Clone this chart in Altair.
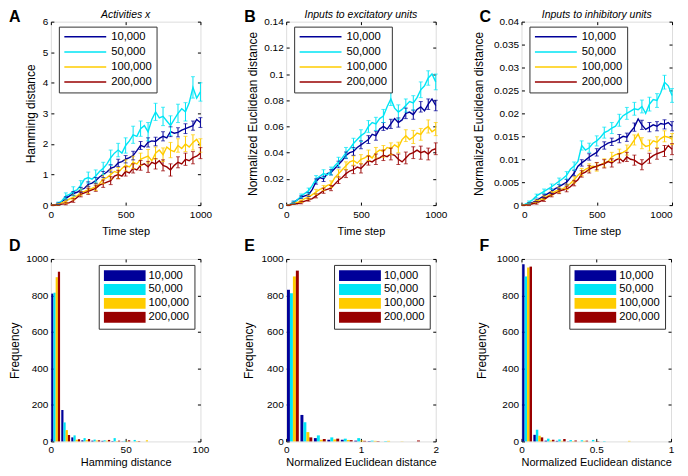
import altair as alt
import pandas as pd

FONT = "Liberation Sans"
SERIES = ["10,000", "50,000", "100,000", "200,000"]
COLORS = ["#000099", "#00E5F5", "#FFCC00", "#990000"]

# time steps of the line panels and positions of the error bars
T = list(range(0, 1001, 25))
ERR_T = list(range(50, 1001, 50))

# ---- Panel A: Activities x (Hamming distance)
A_10K = [0, 0.01, 0.05, 0.12, 0.22, 0.3, 0.38, 0.42, 0.5, 0.55, 0.68, 0.72, 0.8, 0.92, 1.0, 1.08, 1.2, 1.25, 1.38, 1.42,
         1.5, 1.55, 1.62, 1.78, 1.95, 1.9, 2.05, 2.1, 2.08, 2.18, 2.25, 2.2, 2.4, 2.35, 2.38, 2.45, 2.5, 2.55, 2.6, 2.8, 2.7]
A_50K = [0, 0.0, 0.05, 0.15, 0.3, 0.35, 0.45, 0.5, 0.65, 0.85, 0.9, 0.85, 0.95, 1.1, 1.2, 1.35, 1.55, 1.7, 1.8, 1.7,
         1.95, 2.1, 2.3, 2.25, 2.5, 2.6, 2.4, 2.8, 3.05, 2.85, 2.9, 2.75, 2.6, 2.8, 3.0, 3.15, 3.05, 3.35, 3.85, 3.5, 3.7]
A_100K = [0, 0, 0.02, 0.08, 0.12, 0.2, 0.25, 0.3, 0.42, 0.45, 0.5, 0.55, 0.6, 0.7, 0.85, 0.9, 1.0, 1.1, 1.05, 1.2,
          1.3, 1.25, 1.4, 1.35, 1.5, 1.55, 1.6, 1.45, 1.7, 1.8, 1.65, 1.9, 1.8, 1.75, 1.95, 1.85, 2.0, 1.9, 2.05, 2.15, 1.95]
A_200K = [0, 0, 0.01, 0.03, 0.05, 0.08, 0.15, 0.25, 0.35, 0.4, 0.45, 0.5, 0.55, 0.65, 0.7, 0.75, 0.8, 0.95, 1.0, 0.95,
          1.1, 1.05, 1.2, 1.15, 1.3, 1.35, 1.25, 1.4, 1.35, 1.45, 1.3, 1.25, 1.15, 1.3, 1.4, 1.35, 1.5, 1.45, 1.55, 1.6, 1.7]
A_ERR_10K = [0.03, 0.05, 0.06, 0.08, 0.08, 0.1, 0.1, 0.12, 0.12, 0.12, 0.14, 0.13, 0.15, 0.14, 0.15, 0.16, 0.15, 0.16, 0.15, 0.16]
A_ERR_50K = [0.05, 0.1, 0.15, 0.15, 0.18, 0.2, 0.2, 0.25, 0.22, 0.25, 0.28, 0.25, 0.3, 0.28, 0.3, 0.32, 0.3, 0.3, 0.35, 0.3]
A_ERR_100K = [0.03, 0.06, 0.08, 0.1, 0.12, 0.12, 0.15, 0.15, 0.18, 0.18, 0.2, 0.2, 0.22, 0.2, 0.22, 0.25, 0.22, 0.25, 0.25, 0.22]
A_ERR_200K = [0.02, 0.04, 0.06, 0.08, 0.1, 0.1, 0.12, 0.13, 0.14, 0.15, 0.15, 0.16, 0.18, 0.17, 0.18, 0.2, 0.18, 0.2, 0.2, 0.18]

# ---- Panel B: Inputs to excitatory units
B_10K = [0, 0.0005, 0.002, 0.004, 0.006, 0.007, 0.008, 0.012, 0.018, 0.021, 0.02, 0.024, 0.025, 0.028, 0.031, 0.034, 0.038,
         0.04, 0.041, 0.044, 0.046, 0.048, 0.05, 0.054, 0.053, 0.058, 0.06, 0.058, 0.062, 0.066, 0.063, 0.065, 0.07, 0.071,
         0.069, 0.073, 0.075, 0.072, 0.077, 0.081, 0.076]
B_50K = [0, 0.0005, 0.002, 0.004, 0.007, 0.009, 0.011, 0.015, 0.02, 0.022, 0.024, 0.023, 0.026, 0.03, 0.033, 0.036, 0.04,
         0.043, 0.047, 0.05, 0.053, 0.055, 0.06, 0.063, 0.062, 0.066, 0.068, 0.075, 0.081, 0.074, 0.071, 0.073, 0.076, 0.079,
         0.078, 0.082, 0.088, 0.091, 0.097, 0.1, 0.094]
B_100K = [0, 0.0002, 0.001, 0.002, 0.003, 0.005, 0.006, 0.008, 0.01, 0.012, 0.013, 0.015, 0.016, 0.021, 0.024, 0.027, 0.03,
          0.033, 0.034, 0.032, 0.035, 0.036, 0.038, 0.036, 0.04, 0.042, 0.041, 0.044, 0.043, 0.046, 0.044, 0.05, 0.053, 0.05,
          0.052, 0.055, 0.054, 0.058, 0.06, 0.056, 0.058]
B_200K = [0, 0, 0.001, 0.001, 0.002, 0.003, 0.004, 0.005, 0.007, 0.009, 0.011, 0.012, 0.013, 0.016, 0.019, 0.021, 0.024,
          0.026, 0.027, 0.029, 0.028, 0.031, 0.034, 0.033, 0.035, 0.036, 0.038, 0.037, 0.039, 0.038, 0.035, 0.033, 0.036,
          0.039, 0.04, 0.042, 0.04, 0.041, 0.039, 0.042, 0.043]
B_ERR_10K = [0.001, 0.001, 0.0015, 0.002, 0.002, 0.002, 0.0025, 0.0025, 0.003, 0.003, 0.003, 0.0035, 0.003, 0.0035, 0.0035,
             0.004, 0.0035, 0.004, 0.004, 0.004]
B_ERR_50K = [0.001, 0.0015, 0.002, 0.0025, 0.003, 0.003, 0.0035, 0.004, 0.004, 0.0045, 0.0045, 0.005, 0.005, 0.005, 0.0055,
             0.005, 0.0055, 0.006, 0.0055, 0.006]
B_ERR_100K = [0.0005, 0.001, 0.0015, 0.002, 0.002, 0.0025, 0.003, 0.003, 0.0035, 0.0035, 0.004, 0.004, 0.0045, 0.0045, 0.004,
              0.0045, 0.005, 0.0045, 0.005, 0.005]
B_ERR_200K = [0.0005, 0.001, 0.001, 0.0015, 0.002, 0.002, 0.0025, 0.003, 0.003, 0.0035, 0.0035, 0.004, 0.004, 0.0045, 0.004,
              0.0045, 0.0045, 0.005, 0.0045, 0.0045]

# ---- Panel C: Inputs to inhibitory units
C_10K = [0, 0.0001, 0.0003, 0.0006, 0.001, 0.0015, 0.002, 0.0025, 0.003, 0.0036, 0.004, 0.0045, 0.005, 0.006, 0.007, 0.0085,
         0.0092, 0.0098, 0.0105, 0.011, 0.0115, 0.0125, 0.013, 0.0135, 0.0138, 0.014, 0.0145, 0.015, 0.0148, 0.016, 0.017,
         0.0188, 0.0175, 0.0165, 0.017, 0.0175, 0.0172, 0.0178, 0.0176, 0.018, 0.0172]
C_50K = [0, 0.0002, 0.0006, 0.0012, 0.002, 0.0025, 0.003, 0.0035, 0.004, 0.0046, 0.0052, 0.0058, 0.0065, 0.0078, 0.0085,
         0.0095, 0.013, 0.012, 0.0125, 0.0135, 0.014, 0.0148, 0.0158, 0.0162, 0.0168, 0.0172, 0.0185, 0.0195, 0.02, 0.0205,
         0.021, 0.0208, 0.0215, 0.02, 0.022, 0.023, 0.0228, 0.0245, 0.0268, 0.026, 0.0239]
C_100K = [0, 0, 0.0002, 0.0004, 0.0008, 0.0012, 0.0016, 0.002, 0.0025, 0.003, 0.0033, 0.0036, 0.004, 0.0047, 0.0055, 0.0065,
          0.0072, 0.0078, 0.0082, 0.0085, 0.0083, 0.0088, 0.0092, 0.0095, 0.0105, 0.011, 0.0112, 0.0115, 0.012, 0.013,
          0.0142, 0.0155, 0.0135, 0.0128, 0.013, 0.014, 0.0137, 0.0145, 0.015, 0.0148, 0.0144]
C_200K = [0, 0, 0.0001, 0.0003, 0.0005, 0.0008, 0.0012, 0.0018, 0.0022, 0.0026, 0.003, 0.0033, 0.0035, 0.004, 0.0048,
          0.0055, 0.0068, 0.0072, 0.0078, 0.0082, 0.0085, 0.0088, 0.009, 0.0095, 0.0092, 0.0098, 0.0102, 0.0095, 0.0105,
          0.01, 0.0098, 0.0092, 0.0088, 0.0095, 0.0102, 0.0108, 0.0112, 0.0115, 0.0118, 0.013, 0.0122]
C_ERR_10K = [0.0002, 0.0003, 0.0004, 0.0005, 0.0005, 0.0006, 0.0006, 0.0007, 0.0007, 0.0008, 0.0008, 0.0008, 0.0009, 0.0009,
             0.0009, 0.001, 0.001, 0.001, 0.001, 0.001]
C_ERR_50K = [0.0003, 0.0004, 0.0005, 0.0006, 0.0007, 0.0008, 0.0009, 0.001, 0.001, 0.0011, 0.0012, 0.0012, 0.0013, 0.0013,
             0.0014, 0.0014, 0.0015, 0.0015, 0.0015, 0.0015]
C_ERR_100K = [0.0002, 0.0003, 0.0004, 0.0005, 0.0006, 0.0006, 0.0007, 0.0008, 0.0008, 0.0009, 0.0009, 0.001, 0.001, 0.0011,
              0.0011, 0.0012, 0.0012, 0.0012, 0.0012, 0.0012]
C_ERR_200K = [0.0002, 0.0003, 0.0004, 0.0004, 0.0005, 0.0006, 0.0006, 0.0007, 0.0008, 0.0008, 0.0009, 0.0009, 0.001, 0.001,
              0.0011, 0.0011, 0.0011, 0.0012, 0.0012, 0.0012]

# ---- Histograms D, E, F: bin centres and counts
D_CENTERS = [3.2, 9.9, 16.6, 23.3, 30.0, 36.7, 43.4, 50.1, 56.8, 63.5]
D_10K = [810, 172, 22, 6, 4, 3, 2, 1, 0, 0]
D_50K = [815, 104, 33, 18, 10, 6, 18, 3, 8, 0]
D_100K = [900, 62, 9, 7, 5, 4, 2, 3, 2, 6]
D_200K = [930, 35, 12, 13, 6, 8, 4, 6, 2, 0]

E_CENTERS = [0.09, 0.27, 0.45, 0.63, 0.81, 0.99, 1.17, 1.35, 1.53, 1.71]
E_10K = [831, 145, 18, 9, 9, 4, 2, 0, 0, 0]
E_50K = [812, 105, 33, 22, 15, 18, 4, 2, 0, 0]
E_100K = [904, 51, 9, 11, 8, 5, 3, 3, 1, 0]
E_200K = [936, 22, 13, 15, 7, 3, 2, 0, 0, 5]

F_CENTERS = [0.0375, 0.1125, 0.1875, 0.2625, 0.3375, 0.4125, 0.4875, 0.5625, 0.6375, 0.7125]
F_10K = [971, 36, 4, 3, 1, 0, 0, 0, 0, 0]
F_50K = [904, 64, 15, 11, 7, 6, 8, 2, 0, 0]
F_100K = [953, 31, 5, 3, 2, 3, 1, 0, 0, 3]
F_200K = [958, 22, 9, 13, 5, 4, 2, 0, 0, 0]

TOP_X_TICKS = [0, 500, 1000]
A_Y_TICKS = [0, 1, 2, 3, 4, 5, 6]
B_Y_TICKS = [0, 0.02, 0.04, 0.06, 0.08, 0.1, 0.12, 0.14]
C_Y_TICKS = [0, 0.005, 0.01, 0.015, 0.02, 0.025, 0.03, 0.035, 0.04]
HIST_Y_TICKS = [0, 200, 400, 600, 800, 1000]

TICK_STYLE = dict(offset=-3, tickSize=3, tickColor="black", tickWidth=1, domain=False, grid=False,
                  labelFont=FONT, labelFontSize=10, labelColor="black", format=".6~g", labelFlush=False,
                  titleFont=FONT, titleFontWeight="normal", titleColor="black")


def axis(orient, values, title=None, labels=True, **kw):
    props = dict(TICK_STYLE)
    props.update(kw)
    props["title"] = title
    return alt.Axis(orient=orient, values=values, labels=labels, **props)


def text_layer(txt, x, y, size, weight="normal", style="normal", align="left"):
    return alt.Chart(pd.DataFrame({"k": [txt]})).mark_text(
        font=FONT, fontSize=size, fontWeight=weight, fontStyle=style, align=align,
        baseline="alphabetic", color="black"
    ).encode(text="k:N", x=alt.value(x), y=alt.value(y))


def line_panel(series_vals, series_errs, ydom, yticks, ytitle, title, letter, ytitle_pad, width, xflush=False):
    rows, erows = [], []
    for s, vals, errs in zip(SERIES, series_vals, series_errs):
        for t, v in zip(T, vals):
            rows.append({"t": t, "s": s, "v": v})
        lookup = dict(zip(T, vals))
        for t, e in zip(ERR_T, errs):
            erows.append({"t": t, "s": s, "lo": lookup[t] - e, "hi": lookup[t] + e})
    df = pd.DataFrame(rows)
    edf = pd.DataFrame(erows)
    xs = alt.Scale(domain=[0, 1000], nice=False, zero=False)
    ys = alt.Scale(domain=ydom, nice=False, zero=False)
    cs = alt.Scale(domain=SERIES, range=COLORS)
    legend = alt.Legend(title=None, orient="none", legendX=8, legendY=5, symbolType="stroke",
                        symbolSize=1764, symbolStrokeWidth=1.5, labelFont=FONT, labelFontSize=11.25,
                        labelColor="black", labelOffset=4, clipHeight=11.5, rowPadding=2.1, padding=4.5,
                        strokeColor="#333333", fillColor="white")
    line = alt.Chart(df).mark_line(strokeWidth=1.4).encode(
        x=alt.X("t:Q", scale=xs, axis=axis("bottom", TOP_X_TICKS, "Time step", labelPadding=4, titlePadding=6,
                                           titleFontSize=11, labelFlush=xflush)),
        y=alt.Y("v:Q", scale=ys, axis=axis("left", yticks, ytitle, labelPadding=3, titlePadding=ytitle_pad,
                                           titleFontSize=12)),
        color=alt.Color("s:N", scale=cs, sort=SERIES, legend=legend),
    )
    rules = alt.Chart(edf).mark_rule(strokeWidth=1).encode(
        x=alt.X("t:Q", scale=xs, axis=axis("top", TOP_X_TICKS, labels=False)),
        y=alt.Y("lo:Q", scale=ys, axis=axis("right", yticks, labels=False)),
        y2="hi:Q",
        color=alt.Color("s:N", scale=cs, sort=SERIES, legend=None),
    )
    cap_hi = alt.Chart(edf).mark_tick(orient="horizontal", size=4, thickness=1).encode(
        x=alt.X("t:Q", scale=xs, axis=None), y=alt.Y("hi:Q", scale=ys, axis=None),
        color=alt.Color("s:N", scale=cs, sort=SERIES, legend=None),
    )
    cap_lo = alt.Chart(edf).mark_tick(orient="horizontal", size=4, thickness=1).encode(
        x=alt.X("t:Q", scale=xs, axis=None), y=alt.Y("lo:Q", scale=ys, axis=None),
        color=alt.Color("s:N", scale=cs, sort=SERIES, legend=None),
    )
    return alt.layer(
        line, rules, cap_hi, cap_lo,
        text_layer(letter, -42, 0.5, 16, weight="bold"),
        text_layer(title, width / 2, -4, 10.5, style="italic", align="center"),
    ).properties(width=width, height=184)


def hist_panel(centers, counts, xdom, xticks, xtitle, letter, ytitle_pad, width):
    spacing = centers[1] - centers[0]
    bw = spacing * 0.22
    rows = []
    for i, (s, cnt) in enumerate(zip(SERIES, counts)):
        for c, n in zip(centers, cnt):
            x0 = c + (i - 2) * bw
            rows.append({"x0": x0, "x1": x0 + bw, "n": n, "s": s})
    df = pd.DataFrame(rows)
    xs = alt.Scale(domain=xdom, nice=False, zero=False)
    ys = alt.Scale(domain=[0, 1000], nice=False)
    cs = alt.Scale(domain=SERIES, range=COLORS)
    legend = alt.Legend(title=None, orient="top-right", offset=6, symbolType="M-1,-0.26H1V0.26H-1Z",
                        symbolSize=1764, symbolStrokeWidth=0, labelFont=FONT, labelFontSize=11.25,
                        labelColor="black", labelOffset=3, clipHeight=11.5, rowPadding=0.9, padding=5,
                        strokeColor="#333333", fillColor="white")
    bars = alt.Chart(df).mark_bar().encode(
        x=alt.X("x0:Q", scale=xs, axis=axis("bottom", xticks, xtitle, labelPadding=3, titlePadding=2,
                                            titleFontSize=11)),
        x2="x1:Q",
        y=alt.Y("n:Q", scale=ys, axis=axis("left", HIST_Y_TICKS, "Frequency", labelPadding=3,
                                           titlePadding=ytitle_pad, titleFontSize=12)),
        y2=alt.datum(0),
        color=alt.Color("s:N", scale=cs, sort=SERIES, legend=legend),
    )
    frame = alt.Chart(df).mark_bar(opacity=0).encode(
        x=alt.X("x0:Q", scale=xs, axis=axis("top", xticks, labels=False)),
        x2="x1:Q",
        y=alt.Y("n:Q", scale=ys, axis=axis("right", HIST_Y_TICKS, labels=False)),
        y2=alt.datum(0),
    )
    return alt.layer(bars, frame, text_layer(letter, -42, -8, 16, weight="bold")).properties(width=width, height=183)


pA = line_panel([A_10K, A_50K, A_100K, A_200K], [A_ERR_10K, A_ERR_50K, A_ERR_100K, A_ERR_200K],
                [0, 6], A_Y_TICKS, "Hamming distance", "Activities x", "A", 5, 150)
pB = line_panel([B_10K, B_50K, B_100K, B_200K], [B_ERR_10K, B_ERR_50K, B_ERR_100K, B_ERR_200K],
                [0, 0.14], B_Y_TICKS, "Normalized Euclidean distance", "Inputs to excitatory units", "B", 4, 150)
pC = line_panel([C_10K, C_50K, C_100K, C_200K], [C_ERR_10K, C_ERR_50K, C_ERR_100K, C_ERR_200K],
                [0, 0.04], C_Y_TICKS, "Normalized Euclidean distance", "Inputs to inhibitory units", "C", 8, 151,
                xflush=True)

pD = hist_panel(D_CENTERS, [D_10K, D_50K, D_100K, D_200K], [0, 100], [0, 50, 100], "Hamming distance", "D", 4, 150)
pE = hist_panel(E_CENTERS, [E_10K, E_50K, E_100K, E_200K], [0, 2], [0, 1, 2], "Normalized Euclidean distance", "E", 6, 150)
pF = hist_panel(F_CENTERS, [F_10K, F_50K, F_100K, F_200K], [0, 1], [0, 0.5, 1], "Normalized Euclidean distance", "F", 8, 150)

chart = alt.concat(pA, pB, pC, pD, pE, pF, columns=3, spacing={"row": 54, "column": 86}, bounds="flush",
                   padding={"left": 0, "top": 0, "right": 4, "bottom": 0})
chart = chart.resolve_scale(x="independent", y="independent", color="independent").resolve_legend(color="independent")
chart = chart.configure_view(stroke="#1a1a1a", strokeWidth=1).configure(background="white")

chart.save("out.html", embed_options={"renderer": "svg", "actions": False})
